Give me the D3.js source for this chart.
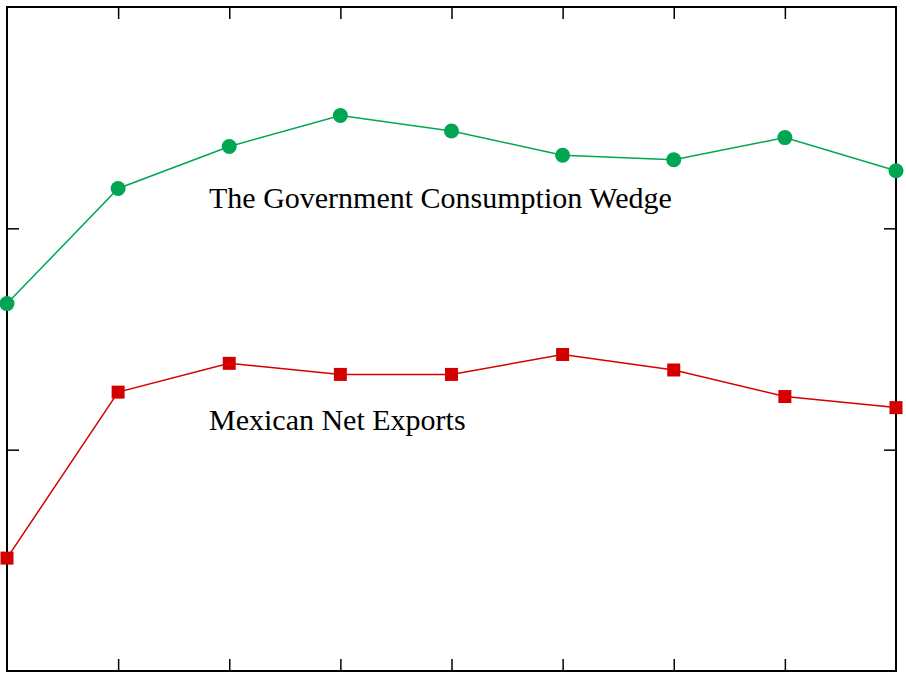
<!DOCTYPE html>
<html>
<head>
<meta charset="utf-8">
<script src="https://d3js.org/d3.v7.min.js"></script>
<style>
  body { margin: 0; background: #fff; }
  svg { display: block; }
  .lbl { font-family: "Liberation Serif", "Times New Roman", serif; font-size: 30px; fill: #000; }
</style>
</head>
<body>
<svg id="chart" width="906" height="684"></svg>
<script>
// periods along the x axis (no labels shown in the figure)
const periods = [0, 1, 2, 3, 4, 5, 6, 7, 8];
const govWedge = [1.66, 2.18, 2.37, 2.51, 2.44, 2.33, 2.31, 2.41, 2.26];
const netExports = [0.51, 1.26, 1.39, 1.34, 1.34, 1.43, 1.36, 1.24, 1.19];
const yTicks = [1, 2];

const W = 906, H = 684;
const m = { left: 7, right: 10, top: 7, bottom: 13 };
const svg = d3.select("#chart");

const x = d3.scaleLinear().domain([0, 8]).range([m.left, W - m.right]);
const y = d3.scaleLinear().domain([0, 3]).range([H - m.bottom, m.top]);

const TICK = 12;

// tick marks (inward, all four sides)
const gAxes = svg.append("g");
gAxes.append("g").attr("transform", `translate(0,${H - m.bottom})`)
  .call(d3.axisTop(x).tickValues(periods.slice(1, -1)).tickSize(TICK).tickFormat(""));
gAxes.append("g").attr("transform", `translate(0,${m.top})`)
  .call(d3.axisBottom(x).tickValues(periods.slice(1, -1)).tickSize(TICK).tickFormat(""));
gAxes.append("g").attr("transform", `translate(${m.left},0)`)
  .call(d3.axisRight(y).tickValues(yTicks).tickSize(TICK).tickFormat(""));
gAxes.append("g").attr("transform", `translate(${W - m.right},0)`)
  .call(d3.axisLeft(y).tickValues(yTicks).tickSize(TICK).tickFormat(""));
gAxes.selectAll(".domain").remove();
gAxes.selectAll(".tick line").attr("stroke", "#000").attr("stroke-width", 1.5);

// frame
svg.append("rect")
  .attr("x", x(0)).attr("y", y(3))
  .attr("width", x(8) - x(0)).attr("height", y(0) - y(3))
  .attr("fill", "none").attr("stroke", "#000").attr("stroke-width", 2);

const line = d3.line().x((d, i) => x(periods[i])).y(d => y(d));

const green = "#00a651", red = "#d40000";

svg.append("path").datum(govWedge).attr("d", line)
  .attr("fill", "none").attr("stroke", green).attr("stroke-width", 1.5);
svg.append("g").selectAll("circle").data(govWedge).join("circle")
  .attr("cx", (d, i) => x(periods[i])).attr("cy", d => y(d))
  .attr("r", 7.5).attr("fill", green);

svg.append("path").datum(netExports).attr("d", line)
  .attr("fill", "none").attr("stroke", red).attr("stroke-width", 1.5);
const S = 13;
svg.append("g").selectAll("rect").data(netExports).join("rect")
  .attr("x", (d, i) => x(periods[i]) - S / 2).attr("y", d => y(d) - S / 2)
  .attr("width", S).attr("height", S).attr("fill", red);

svg.append("text").attr("class", "lbl").attr("x", 209).attr("y", 208)
  .text("The Government Consumption Wedge");
svg.append("text").attr("class", "lbl").attr("x", 209).attr("y", 430)
  .text("Mexican Net Exports");
</script>
</body>
</html>
